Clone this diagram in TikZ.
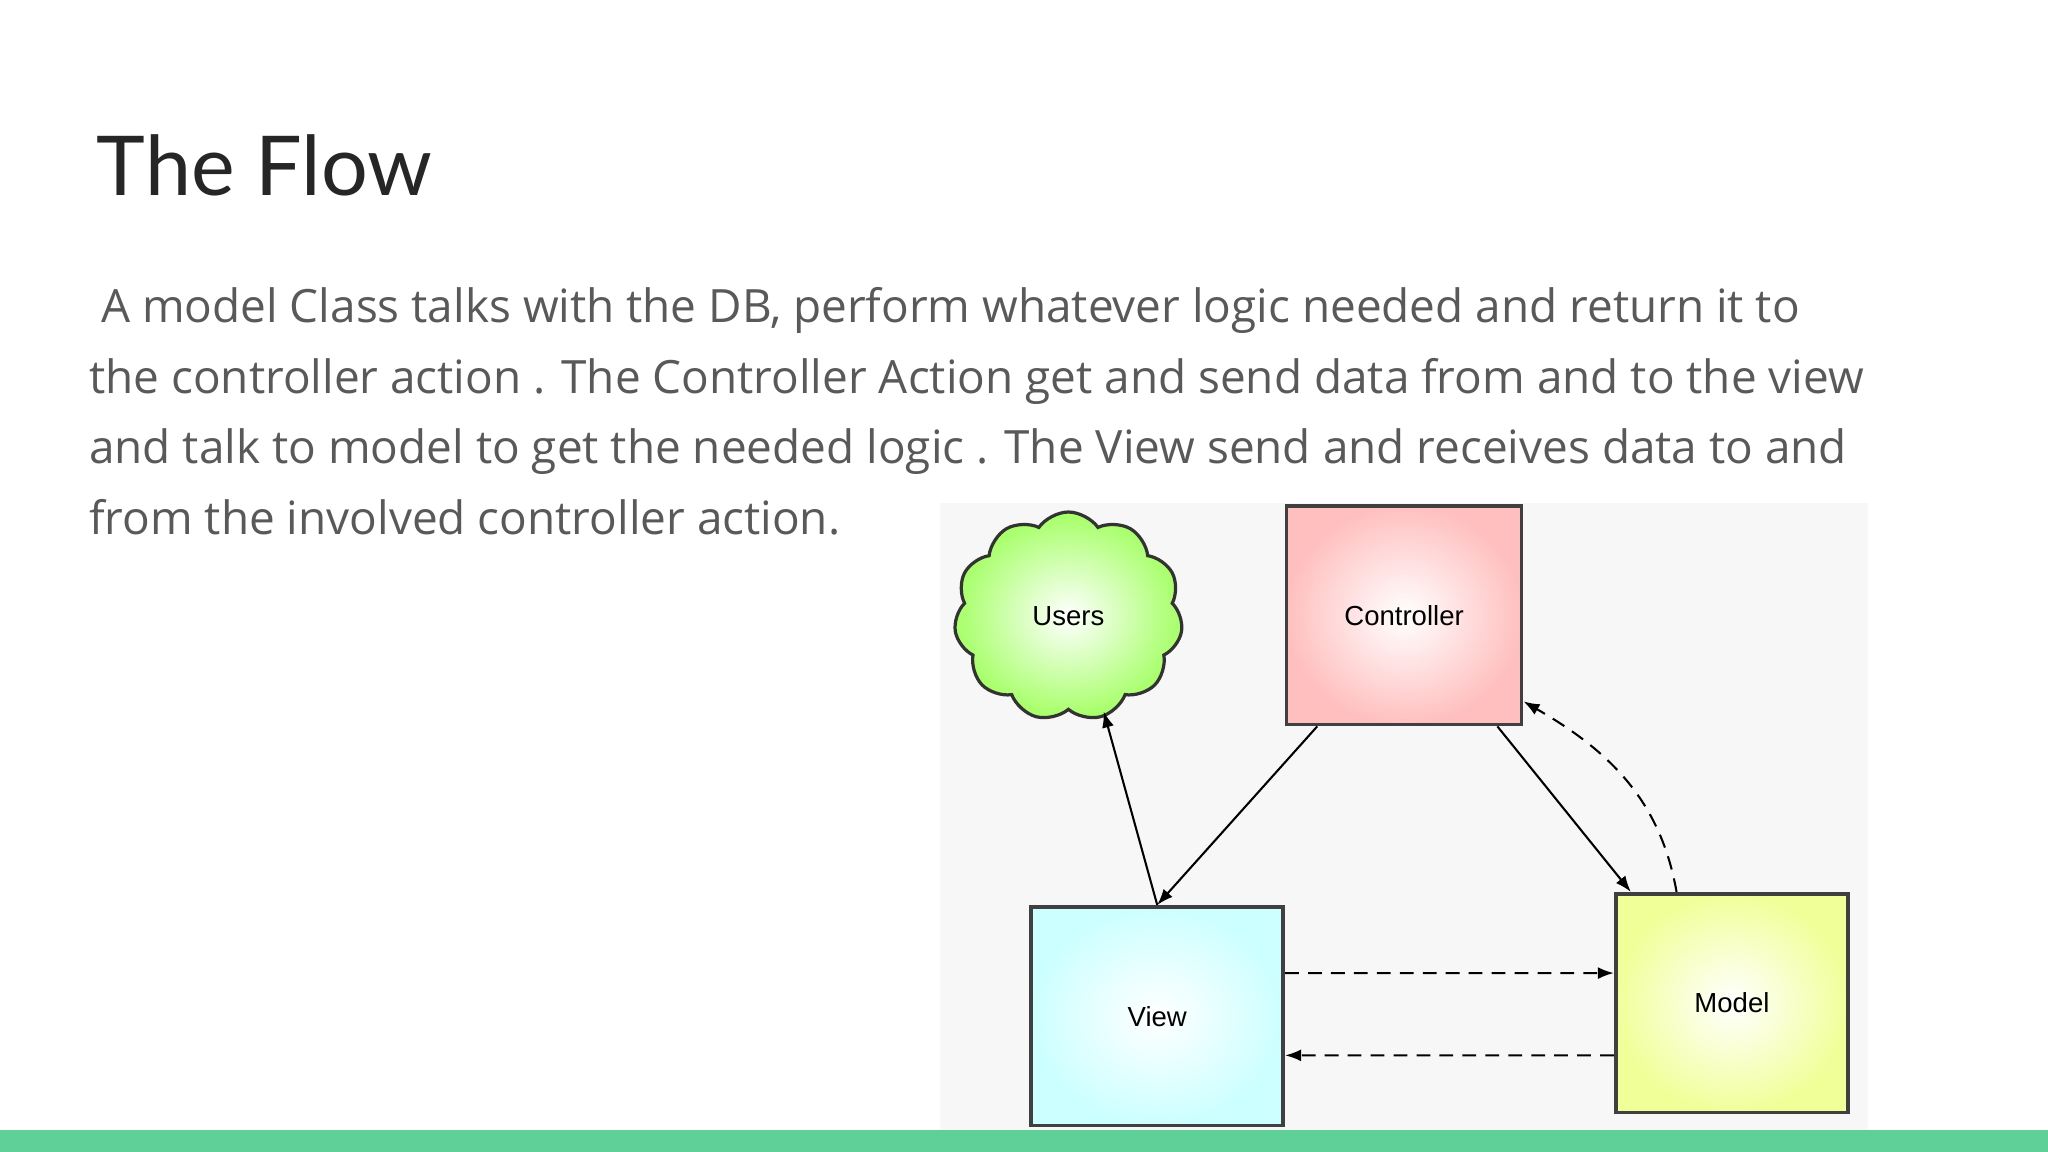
\documentclass[tikz,border=0pt]{standalone}
\usepackage{fontspec}
\setmainfont{Lato}
\newfontfamily\bodyfont{Open Sans}
\newfontfamily\labelfont{Liberation Sans}
\usetikzlibrary{shapes.symbols,arrows.meta}
\definecolor{bodygray}{HTML}{595959}
\definecolor{bargreen}{HTML}{5FD198}
\tikzset{
  box/.style={draw=black!75, line width=1.6pt, minimum width=3.6cm, minimum height=3.35cm, font=\labelfont\large},
  flow/.style={-{Latex[length=7pt]}, line width=0.9pt},
  back/.style={flow, dashed, dash pattern=on 6pt off 4pt}
}
\begin{document}
\begin{tikzpicture}[x=0.02cm,y=-0.02cm]
\useasboundingbox (0,0) rectangle (1568,882);
\fill[bargreen] (0,865) rectangle (1568,882);
\fill[black!3] (720,385) rectangle (1430,865);
\node[anchor=base west, font=\fontsize{36}{40}\selectfont, text=black!85] (title) at (68,150) {The Flow};
\node[anchor=north west, align=left, text=bodygray,
  font=\bodyfont\fontsize{20}{30.7}\selectfont, inner sep=0pt] (body) at (68,220)
  {\ A model Class talks with the DB, perform whatever logic needed and return it to\\
   the controller action . The Controller Action get and send data from and to the view\\
   and talk to model to get the needed logic . The View send and receives data to and\\
   from the involved controller action.};
% diagram
\node[cloud, cloud puffs=11, cloud puff arc=110, aspect=1.05, draw=black!80, line width=1.4pt,
  inner color=white, outer color=green!45!lime!60, minimum width=3.5cm, minimum height=3.2cm,
  font=\labelfont\large] (users) at (818,472) {Users};
\node[box, inner color=white, outer color=red!25] (controller) at (1075,471) {Controller};
\node[box, inner color=white, outer color=cyan!20, minimum width=3.86cm] (view) at (886,778) {View};
\node[box, inner color=white, outer color=yellow!45!lime!40, minimum width=3.56cm] (model) at (1326,768) {Model};
\draw[flow] (view.north) -- ([xshift=0.54cm]users.south);
\draw[flow] (controller.-128) -- (view.north);
\draw[flow] (controller.-50) -- ([xshift=0.26cm]model.north west);
\draw[back] ([xshift=0.96cm]model.north west) to[out=100, in=-30] ([yshift=-1.32cm]controller.east);
\draw[back] ([yshift=0.66cm]view.east) -- ([yshift=0.46cm]model.west);
\draw[back] ([yshift=-0.8cm]model.west) -- ([yshift=-0.6cm]view.east);
\end{tikzpicture}
\end{document}
